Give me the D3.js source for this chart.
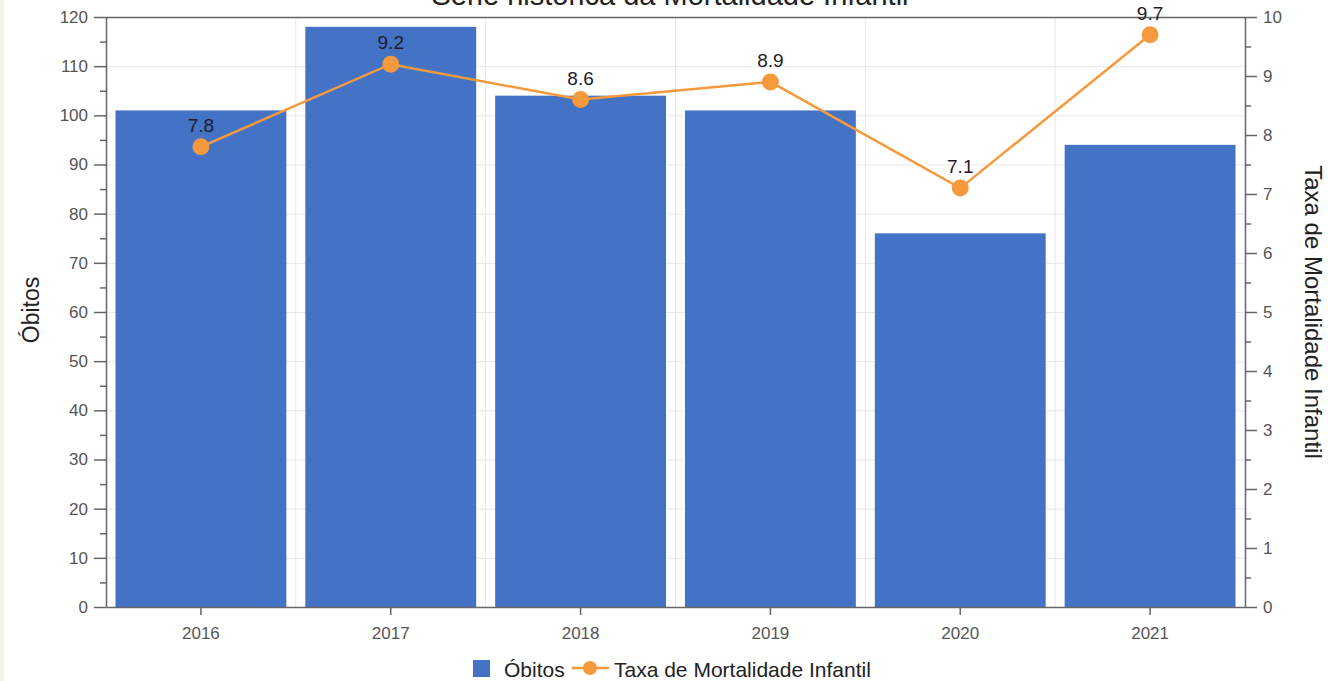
<!DOCTYPE html>
<html>
<head>
<meta charset="utf-8">
<script src="https://cdn.jsdelivr.net/npm/d3@7"></script>
<style>
  html, body { margin: 0; padding: 0; background: #fff; }
  svg { display: block; font-family: "Liberation Sans", Arial, sans-serif; }
</style>
</head>
<body>
<svg id="chart" width="1328" height="681"></svg>
<script>
const title = "Série histórica da Mortalidade Infantil";
const years = ["2016", "2017", "2018", "2019", "2020", "2021"];
const obitos = [101, 118, 104, 101, 76, 94];
const taxa = [7.8, 9.2, 8.6, 8.9, 7.1, 9.7];
const leftTicks = [0, 10, 20, 30, 40, 50, 60, 70, 80, 90, 100, 110, 120];
const rightTicks = [0, 1, 2, 3, 4, 5, 6, 7, 8, 9, 10];
const seriesNames = ["Óbitos", "Taxa de Mortalidade Infantil"];

const barColor = "#4472C4";
const lineColor = "#F59A3C";
const axisColor = "#666";
const textColor = "#555";

const svg = d3.select("#chart");
const m = { left: 106, right: 1245, top: 17, bottom: 607 };

svg.append("rect").attr("x", 0).attr("y", 0).attr("width", 4).attr("height", 681).attr("fill", "#eef4ea");

const x = d3.scaleBand().domain(years).range([m.left, m.right]).paddingInner(0.1).paddingOuter(0.05);
const yL = d3.scaleLinear().domain([0, 120]).range([m.bottom, m.top]);
const yR = d3.scaleLinear().domain([0, 10]).range([m.bottom, m.top]);

// gridlines
const grid = svg.append("g");
grid.selectAll("line.h").data(leftTicks.slice(1)).join("line")
  .attr("x1", m.left).attr("x2", m.right)
  .attr("y1", d => yL(d) + 0.5).attr("y2", d => yL(d) + 0.5)
  .attr("stroke", "#e8e8e8").attr("stroke-width", 1);
const bounds = years.slice(1).map(d => x(d) - x.step() * x.paddingInner() / 2);
grid.selectAll("line.v").data(bounds).join("line")
  .attr("x1", d => d).attr("x2", d => d)
  .attr("y1", m.top).attr("y2", m.bottom)
  .attr("stroke", "#e8e8e8").attr("stroke-width", 1);

// bars
svg.append("g").selectAll("rect").data(years).join("rect")
  .attr("x", d => x(d)).attr("width", x.bandwidth())
  .attr("y", (d, i) => yL(obitos[i])).attr("height", (d, i) => m.bottom - yL(obitos[i]))
  .attr("fill", barColor);

// top border
svg.append("line").attr("x1", m.left).attr("x2", m.right).attr("y1", m.top + 0.5).attr("y2", m.top + 0.5)
  .attr("stroke", axisColor).attr("stroke-width", 1.5);

function styleAxis(g) {
  g.selectAll(".domain").attr("stroke", axisColor).attr("stroke-width", 1.5);
  g.selectAll(".tick line").attr("stroke", axisColor).attr("stroke-width", 1.5);
  g.selectAll(".tick text").attr("fill", textColor).style("font-size", "17px")
    .style("font-family", '"Liberation Sans", Arial, sans-serif');
}

// left axis minor ticks
const leftMinor = d3.range(5, 120, 10);
svg.append("g").attr("transform", `translate(${m.left},0)`)
  .call(d3.axisLeft(yL).tickValues(leftMinor).tickSize(6).tickFormat(""))
  .call(g => { g.select(".domain").remove(); g.selectAll(".tick line").attr("stroke", axisColor).attr("stroke-width", 1.5); });
svg.append("g").attr("transform", `translate(${m.left},0)`)
  .call(d3.axisLeft(yL).tickValues(leftTicks).tickSize(12).tickSizeOuter(0).tickPadding(6))
  .call(styleAxis);

// right axis
const rightMinor = d3.range(0.5, 10, 1);
svg.append("g").attr("transform", `translate(${m.right},0)`)
  .call(d3.axisRight(yR).tickValues(rightMinor).tickSize(6).tickFormat(""))
  .call(g => { g.select(".domain").remove(); g.selectAll(".tick line").attr("stroke", axisColor).attr("stroke-width", 1.5); });
svg.append("g").attr("transform", `translate(${m.right},0)`)
  .call(d3.axisRight(yR).tickValues(rightTicks).tickSize(12).tickSizeOuter(0).tickPadding(6))
  .call(styleAxis);

// bottom axis
svg.append("g").attr("transform", `translate(0,${m.bottom})`)
  .call(d3.axisBottom(x).tickSize(8).tickSizeOuter(0).tickPadding(12))
  .call(styleAxis);

// line
const pts = years.map((d, i) => [x(d) + x.bandwidth() / 2, yR(taxa[i])]);
svg.append("path").attr("d", d3.line()(pts))
  .attr("fill", "none").attr("stroke", lineColor).attr("stroke-width", 2.5);
svg.append("g").selectAll("circle").data(pts).join("circle")
  .attr("cx", d => d[0]).attr("cy", d => d[1]).attr("r", 8.5).attr("fill", lineColor);
svg.append("g").selectAll("text").data(years).join("text")
  .attr("x", d => x(d) + x.bandwidth() / 2).attr("y", (d, i) => yR(taxa[i]) - 15)
  .attr("text-anchor", "middle").attr("fill", "#1c1c2c").style("font-size", "19px")
  .text((d, i) => taxa[i].toFixed(1));

// axis titles
svg.append("text").attr("transform", "translate(39,310) rotate(-90)")
  .attr("text-anchor", "middle").attr("fill", "#222").style("font-size", "23px").text(seriesNames[0]);
svg.append("text").attr("transform", "translate(1305,312) rotate(90)")
  .attr("text-anchor", "middle").attr("fill", "#222").style("font-size", "24px").text(seriesNames[1]);

// title (cut off by the top edge, as in the reference)
svg.append("text").attr("x", 670).attr("y", 5).attr("text-anchor", "middle")
  .attr("fill", "#222").style("font-size", "29px").text(title);

// legend
const lg = svg.append("g");
lg.append("rect").attr("x", 473).attr("y", 660).attr("width", 17).attr("height", 17).attr("fill", barColor);
lg.append("text").attr("x", 504).attr("y", 677).attr("fill", "#222").style("font-size", "21px").text(seriesNames[0]);
lg.append("line").attr("x1", 572).attr("x2", 609).attr("y1", 668).attr("y2", 668)
  .attr("stroke", lineColor).attr("stroke-width", 2.5);
lg.append("circle").attr("cx", 590).attr("cy", 668).attr("r", 7).attr("fill", lineColor);
lg.append("text").attr("x", 614).attr("y", 677).attr("fill", "#222").style("font-size", "21px").text(seriesNames[1]);
</script>
</body>
</html>
